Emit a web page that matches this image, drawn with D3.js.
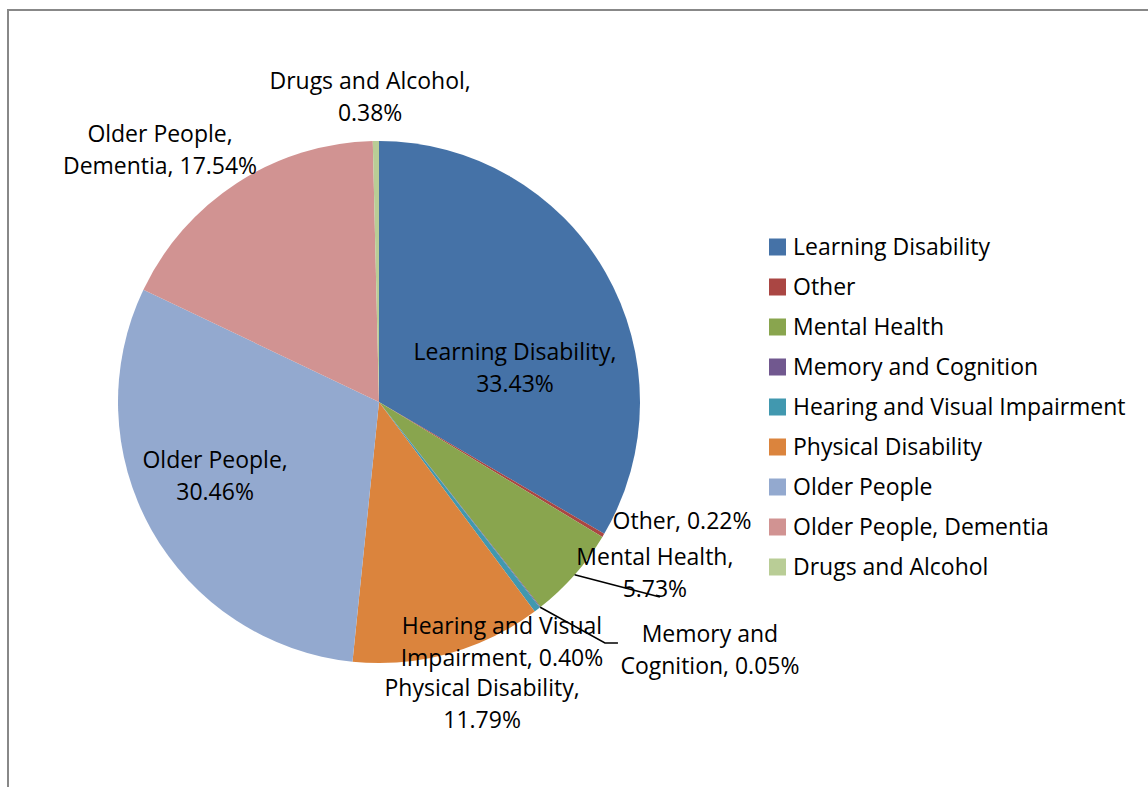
<!DOCTYPE html>
<html>
<head>
<meta charset="utf-8">
<script src="https://cdn.jsdelivr.net/npm/d3@7"></script>
<style>
  html, body { margin: 0; padding: 0; background: #fff; }
  svg { display: block; }
  text { font-family: "Open Sans", "Noto Sans", sans-serif; fill: #000; }
</style>
</head>
<body>
<svg id="chart" width="1148" height="787"></svg>
<script>
// Share of clients by service category (percent)
const categories = [
  "Learning Disability", "Other", "Mental Health", "Memory and Cognition",
  "Hearing and Visual Impairment", "Physical Disability", "Older People",
  "Older People, Dementia", "Drugs and Alcohol"
];
const shares = [33.43, 0.22, 5.73, 0.05, 0.40, 11.79, 30.46, 17.54, 0.38];
const colors = ["#4572A7", "#AA4643", "#89A54E", "#71588F", "#4198AF",
                "#DB843D", "#93A9CF", "#D19392", "#B9CD96"];

// Data label text, split into lines
const labelLines = [
  ["Learning Disability,", "33.43%"],
  ["Other, 0.22%"],
  ["Mental Health,", "5.73%"],
  ["Memory and", "Cognition, 0.05%"],
  ["Hearing and Visual", "Impairment, 0.40%"],
  ["Physical Disability,", "11.79%"],
  ["Older People,", "30.46%"],
  ["Older People,", "Dementia, 17.54%"],
  ["Drugs and Alcohol,", "0.38%"]
];

// Label placement relative to the pie centre, in radius units,
// plus optional leader lines (offsets in px from the label centre).
const labelLayout = [
  { x: 0.521, y: -0.130 },
  { x: 1.161, y: 0.456 },
  { x: 1.057, y: 0.655, leader: [[5, 24]] },
  { x: 1.268, y: 0.950, leader: [[-105, -7], [-92, -7]] },
  { x: 0.471, y: 0.920 },
  { x: 0.395, y: 1.157 },
  { x: -0.628, y: 0.284 },
  { x: -0.839, y: -0.966 },
  { x: -0.034, y: -1.169 }
];

const svg = d3.select("#chart");
const cx = 379, cy = 402, R = 261;

// chart area frame
svg.append("rect")
  .attr("x", 8).attr("y", 10)
  .attr("width", 1200).attr("height", 900)
  .attr("fill", "none").attr("stroke", "#888").attr("stroke-width", 2);

// pick a font size so the legend text occupies the Calibri-like width
const probe = svg.append("text").attr("font-size", 20).text("Learning Disability");
const w20 = probe.node().getComputedTextLength();
probe.remove();
const fs = 20 * 197 / w20;

const pie = d3.pie().sort(null).value(d => d)(shares);
const arc = d3.arc().innerRadius(0).outerRadius(R);

const g = svg.append("g").attr("transform", `translate(${cx},${cy})`);
g.selectAll("path.slice")
  .data(pie)
  .join("path")
  .attr("class", "slice")
  .attr("d", arc)
  .attr("fill", (d, i) => colors[i]);

// leader lines
pie.forEach((d, i) => {
  const lay = labelLayout[i];
  if (!lay.leader) return;
  const mid = (d.startAngle + d.endAngle) / 2;
  const p0 = [R * Math.sin(mid), -R * Math.cos(mid)];
  const lx = lay.x * R, ly = lay.y * R;
  const pts = [p0].concat(lay.leader.map(o => [lx + o[0], ly + o[1]]));
  g.append("path")
    .attr("d", d3.line()(pts))
    .attr("fill", "none").attr("stroke", "#000").attr("stroke-width", 1.5);
});

// data labels
const lineH = 32;
pie.forEach((d, i) => {
  const lay = labelLayout[i];
  const lines = labelLines[i];
  const t = g.append("text")
    .attr("text-anchor", "middle")
    .attr("font-size", fs);
  lines.forEach((s, k) => {
    t.append("tspan")
      .attr("x", lay.x * R)
      .attr("y", lay.y * R + (k - (lines.length - 1) / 2) * lineH)
      .attr("dy", "0.35em")
      .text(s);
  });
});

// legend
const legend = svg.append("g").attr("transform", "translate(769,247)");
const rows = legend.selectAll("g.item")
  .data(categories)
  .join("g")
  .attr("class", "item")
  .attr("transform", (d, i) => `translate(0,${i * 40})`);
rows.append("rect")
  .attr("x", 0).attr("y", -8.5)
  .attr("width", 17).attr("height", 17)
  .attr("fill", (d, i) => colors[i]);
rows.append("text")
  .attr("x", 24).attr("y", 0).attr("dy", "0.35em")
  .attr("font-size", fs)
  .text(d => d);
</script>
</body>
</html>
